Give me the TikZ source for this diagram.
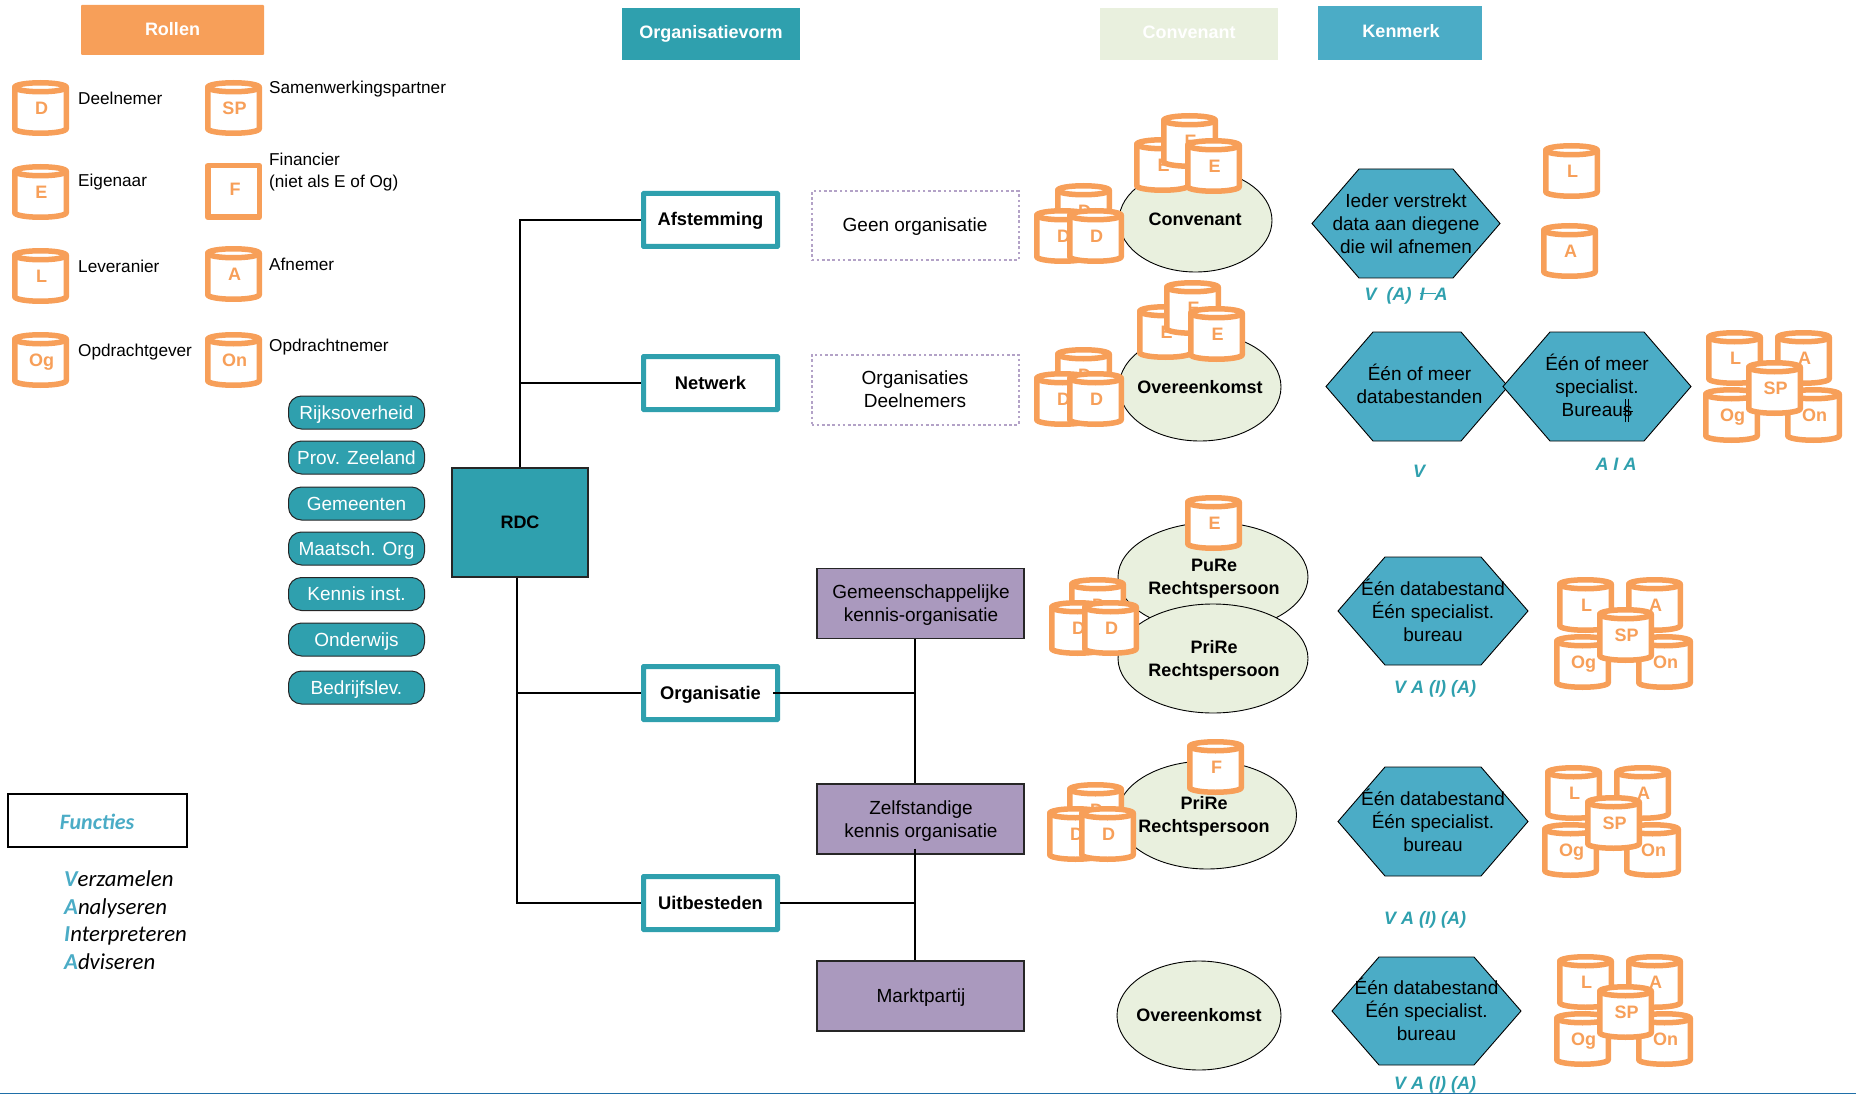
\documentclass[tikz,border=0pt]{standalone}
\usepackage{fontspec}
\setmainfont{Liberation Sans}
\newfontfamily\calfont{Carlito}
\usetikzlibrary{shapes.geometric,calc}
\definecolor{teal}{HTML}{2FA0AE}
\definecolor{orng}{HTML}{F79F59}
\definecolor{hexblue}{HTML}{4BACC6}
\definecolor{pale}{HTML}{E9F0DE}
\definecolor{purp}{HTML}{AA99BE}
\definecolor{dotpurp}{HTML}{B3A2C7}
\definecolor{bottomline}{HTML}{1F6FA8}
\tikzset{
  txt/.style={font=\fontsize{19}{23}\selectfont,align=center,inner sep=0pt,text=black},
  bold/.style={font=\fontsize{18}{23}\selectfont\bfseries,align=center,inner sep=0pt,text=black},
  oneb/.style={bold,text height=15pt,text depth=3pt},
  onet/.style={txt,text height=16.7pt,text depth=3pt},
  legend/.style={font=\fontsize{17.2}{21.5}\selectfont,anchor=west,inner sep=0pt,text=black,text height=15.2pt,text depth=3pt},
  cyllabel/.style={font=\fontsize{18}{20}\selectfont\bfseries,text=orng,inner sep=0pt,text height=15pt,text depth=3pt},
  cylline/.style={draw=orng,line width=5.5pt,fill=white,line join=round},
  header/.style={oneb,text=white,draw=none,rectangle},
  formbox/.style={oneb,font=\fontsize{18.3}{23}\selectfont\bfseries,draw=teal,line width=5pt,fill=white,rectangle,rounded corners=0.5pt},
  dotbox/.style={draw=dotpurp,line width=2pt,dash pattern=on 2.6pt off 2.6pt,rectangle},
  purpbox/.style={draw=black!85,line width=1.4pt,fill=purp,rectangle,inner sep=0pt},
  pill/.style={onet,text=white,fill=teal,draw=black!85,line width=1pt,rectangle,rounded corners=13pt,minimum width=136pt,minimum height=33pt},
  oval/.style={ellipse,draw=black,line width=0.9pt,fill=pale,inner sep=0pt},
  hexa/.style={draw=black,line width=0.9pt,fill=hexblue},
  func/.style={font=\fontsize{18}{22}\selectfont\bfseries\itshape,text=teal,inner sep=0pt,text height=15pt,text depth=3pt},
  fitem/.style={anchor=west,inner sep=0pt,font=\fontsize{22.8}{26}\selectfont\calfont\itshape,text height=16pt,text depth=5pt},
  conn/.style={draw=black,line width=1.3pt},
}
% cylinder: name, left, top, label
\newcommand\cyl[4]{%
  \path[cylline] (#2+2.75,#3+7.25) -- (#2+2.75,#3+48.75)
    .. controls (#2+2.75,#3+51.2) and (#2+14.5,#3+53.25) .. (#2+28.5,#3+53.25)
    .. controls (#2+42.5,#3+53.25) and (#2+54.25,#3+51.2) .. (#2+54.25,#3+48.75)
    -- (#2+54.25,#3+7.25) -- cycle;
  \path[cylline] (#2+28.5,#3+7.25) ellipse [x radius=25.75,y radius=4.5];
  \node[cyllabel] (#1) at (#2+29.5,#3+28.5) {#4};
}
\newcommand\dgroup[7]{% prefix, back x y, left x y, right x y
  \cyl{#1a}{#2}{#3}{D}\cyl{#1b}{#4}{#5}{D}\cyl{#1c}{#6}{#7}{D}}
\newcommand\cluster[3]{% prefix, left, top of L
  \cyl{#1l}{#2}{#3}{L}
  \cyl{#1a}{#2+69}{#3}{A}
  \cyl{#1o}{#2-3}{#3+57}{Og}
  \cyl{#1n}{#2+79}{#3+57}{On}
  \cyl{#1s}{#2+40}{#3+30}{SP}}
% hexagon: [text options], name, x1,y1,x2,y2, text
\newcommand\hexagon[7][]{%
  \path[hexa] (#3,#4/2+#6/2) -- (#3+47,#4) -- (#5-47,#4) -- (#5,#4/2+#6/2) -- (#5-47,#6) -- (#3+47,#6) -- cycle;
  \node[txt,#1] (#2) at (#3/2+#5/2,#4/2+#6/2) {#7};
}
\newcommand\strikebar{\makebox[0pt][l]{\rule[0.34em]{0.9em}{1.1pt}}}
\newcommand\overs{\makebox[0pt][l]{\hspace{2.2pt}\rule[-0.3em]{1pt}{1.2em}\hspace{1.6pt}\rule[-0.3em]{1pt}{1.2em}}\makebox[0pt][l]{\rule[0.22em]{0.55em}{0.9pt}}s}
\newcommand\fl[1]{\textcolor{hexblue}{\bfseries #1}}
\begin{document}
\begin{tikzpicture}[x=1pt,y=-1pt]
\useasboundingbox (0,0) rectangle (1856,1094);
% headers
\node[header,fill=orng,rounded corners=1pt,minimum width=183pt,minimum height=50pt] (rollen) at (172.5,30) {Rollen};
\fill[teal] (622,8) rectangle (800,60);
\node[header] (orgvorm) at (711,33) {Organisatievorm};
\fill[pale] (1100,8) rectangle (1278,60);
\node[header] (conv) at (1189,33) {Convenant};
\fill[hexblue] (1318,6) rectangle (1482,60);
\node[header] (kenm) at (1401,32) {Kenmerk};
% legend
\cyl{ld}{12}{80}{D}\cyl{le}{12}{164}{E}\cyl{ll}{12}{248}{L}\cyl{log}{12}{332}{Og}
\cyl{lsp}{205}{80}{SP}
\path[cylline] (207.75,165.75) rectangle (259.25,217.25);
\node[cyllabel] (lf) at (235,190) {F};
\cyl{la}{205}{246}{A}\cyl{lon}{205}{332}{On}
\node[legend] (td) at (78,98) {Deelnemer};
\node[legend] (te) at (78,180) {Eigenaar};
\node[legend] (tl) at (78,266) {Leveranier};
\node[legend] (tog) at (78,350) {Opdrachtgever};
\node[legend] (tsp) at (269,87) {Samenwerkingspartner};
\node[legend,text height=,text depth=,align=left] (tf) at (269,172) {Financier\\(niet als E of Og)};
\node[legend] (ta) at (269,264) {Afnemer};
\node[legend] (ton) at (269,345) {Opdrachtnemer};
% pills
\node[pill] (p1) at (356.5,412.5) {Rijksoverheid};
\node[pill] (p2) at (356.5,457.5) {Prov. Zeeland};
\node[pill] (p3) at (356.5,503.5) {Gemeenten};
\node[pill] (p4) at (356.5,548.5) {Maatsch. Org};
\node[pill] (p5) at (356.5,594) {Kennis inst.};
\node[pill] (p6) at (356.5,639.5) {Onderwijs};
\node[pill] (p7) at (356.5,687.5) {Bedrijfslev.};
% functies
\node[draw=black,line width=1.2pt,minimum width=179pt,minimum height=53pt,inner sep=0pt] (fbox) at (97.5,820.5) {};
\node[inner sep=0pt,font=\fontsize{22}{26}\selectfont\calfont\bfseries\itshape,text=hexblue,text height=16pt,text depth=5pt] (ftitle) at (97,823.5) {Functies};
\node[fitem] (f1) at (64,880.5) {\fl{V}erzamelen};
\node[fitem] (f2) at (64,908.5) {\fl{A}nalyseren};
\node[fitem] (f3) at (64,935.5) {\fl{I}nterpreteren};
\node[fitem] (f4) at (64,963.5) {\fl{A}dviseren};
% boxes
\node[rectangle,draw=black!85,line width=1.4pt,fill=teal,minimum width=136pt,minimum height=109pt,oneb] (rdc) at (520,522.5) {RDC};
\node[formbox,minimum width=134pt,minimum height=53pt] (afst) at (710.5,220) {Afstemming};
\node[formbox,minimum width=134pt,minimum height=53pt] (netw) at (710.5,383) {Netwerk};
\node[formbox,minimum width=134pt,minimum height=53pt] (orgn) at (710.5,693) {Organisatie};
\node[formbox,minimum width=134pt,minimum height=53pt] (uitb) at (710.5,903) {Uitbesteden};
\node[dotbox,minimum width=207pt,minimum height=69pt] (geen) at (915,226) {};
\node[onet] (geent) at (915,225) {Geen organisatie};
\node[dotbox,minimum width=207pt,minimum height=70pt] (orgs) at (915,389.5) {};
\node[txt] (orgst) at (915,389.5) {Organisaties\\Deelnemers};
\node[purpbox,minimum width=207pt,minimum height=70pt] (gem) at (920.5,603.5) {};
\node[txt] (gemt) at (921,605) {Gemeenschappelijke\\kennis-organisatie};
\node[purpbox,minimum width=207pt,minimum height=70pt] (zelf) at (920.5,819) {};
\node[txt] (zelft) at (921,821.5) {Zelfstandige\\kennis organisatie};
\node[purpbox,minimum width=207pt,minimum height=70pt] (markt) at (920.5,996) {};
\node[onet] (marktt) at (921,996) {Marktpartij};
% connectors
\coordinate (rdcl) at ($(rdc.south)+(-3,0)$);
\coordinate (gems) at ($(gem.south)+(-5.5,0)$);
\coordinate (zelfn) at ($(zelf.north)+(-5.5,0)$);
\coordinate (zelfs) at ($(zelf.south)+(-5.5,-6)$);
\coordinate (marktn) at ($(markt.north)+(-5.5,0)$);
\draw[conn] (rdc.north) |- (afst.west);
\draw[conn] (rdc.north) |- (netw.west);
\draw[conn] (rdcl) |- (orgn.west);
\draw[conn] (rdcl) |- (uitb.west);
\draw[conn] (gems) -- (zelfn);
\draw[conn] (zelfs) -- (marktn);
\coordinate (orge) at ($(orgn.east)+(-7,0)$);
\draw[conn] (orge) -- (orge -| gems);
\draw[conn] (uitb.east) -- (uitb.east -| gems);
% row 1
\node[oval,minimum width=153pt,minimum height=103pt] (e1) at (1195.5,220.5) {};
\node[oneb] (e1t) at (1195,220) {Convenant};
\dgroup{a}{1055}{183}{1034}{208}{1067}{208}
\cyl{bl}{1134}{137}{E}\cyl{bt}{1161}{113}{E}\cyl{br}{1185}{138}{E}
\hexagon{h1}{1312}{169}{1500}{278}{Ieder verstrekt\\data aan diegene\\die wil afnemen}
\cyl{cl}{1543}{143}{L}\cyl{ca}{1541}{223}{A}
\node[func] (v1) at (1406,294) {V\;\;(A)\,\;\strikebar I\;\;A};
% row 2
\node[oval,minimum width=162pt,minimum height=108pt] (e2) at (1200,387) {};
\node[oneb] (e2t) at (1200,387) {Overeenkomst};
\dgroup{d}{1055}{347}{1034}{371}{1067}{371}
\cyl{el}{1137}{304}{E}\cyl{et}{1164}{280}{E}\cyl{er}{1188}{306}{E}
\hexagon[xshift=2.5pt,yshift=2.4pt]{h2}{1326}{332}{1508}{441}{Één of meer\\databestanden}
\hexagon[yshift=-1.5pt]{h3}{1503}{332}{1691}{441}{Één of meer\\specialist.\\Bureau\overs}
\cluster{k}{1706}{330}
\node[func] (v2) at (1419,471) {V};
\node[func] (v3) at (1616,464) {A I A};
% row 3
\node[oval,minimum width=190pt,minimum height=109pt] (e3) at (1213,577) {};
\node[bold] (t3) at (1214,579) {PuRe\\Rechtspersoon};
\node[oval,minimum width=190pt,minimum height=109pt] (e4) at (1213,658.5) {};
\node[bold] (t4) at (1214,660.5) {PriRe\\Rechtspersoon};
\cyl{g}{1185}{495}{E}
\dgroup{m}{1069}{577}{1049}{600}{1082}{600}
\hexagon[yshift=1pt]{h4}{1338}{557}{1528}{665}{Één databestand\\Één specialist.\\bureau}
\cluster{n}{1557}{577}
\node[func] (v4) at (1435,687) {V A (I) (A)};
% row 4
\node[oval,minimum width=179pt,minimum height=108pt] (e5) at (1207,815) {};
\node[bold] (t5) at (1204,816.5) {PriRe\\Rechtspersoon};
\cyl{q}{1187}{739}{F}
\dgroup{r}{1067}{782}{1047}{806}{1079}{806}
\hexagon[yshift=1pt]{h5}{1338}{767}{1528}{876}{Één databestand\\Één specialist.\\bureau}
\cluster{s}{1545}{765}
\node[func] (v5) at (1425,918) {V A (I) (A)};
% row 5
\node[oval,minimum width=164pt,minimum height=109pt] (e6) at (1199,1015.5) {};
\node[oneb] (e6t) at (1199,1015.5) {Overeenkomst};
\hexagon[yshift=1.5pt]{h6}{1332}{957}{1521}{1065}{Één databestand\\Één specialist.\\bureau}
\cluster{u}{1557}{954}
\node[func] (v6) at (1435,1083) {V A (I) (A)};
\fill[bottomline] (0,1092.5) rectangle (1856,1094);
\end{tikzpicture}
\end{document}
